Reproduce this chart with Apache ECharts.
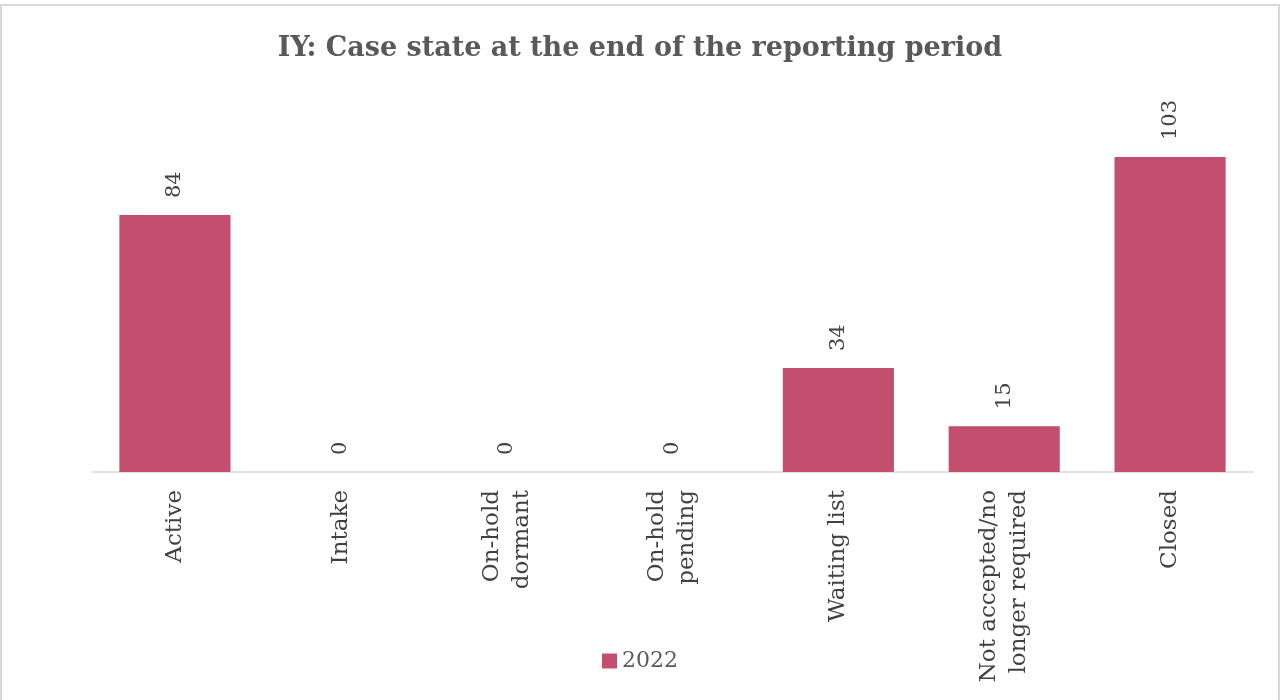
<!DOCTYPE html>
<html>
<head>
<meta charset="utf-8">
<script src="https://cdn.jsdelivr.net/npm/echarts@6/dist/echarts.min.js"></script>
<style>
  html, body { margin: 0; padding: 0; background: #fff; overflow: hidden; }
  #chart {
    position: absolute; left: 0; top: 4px;
    width: 1276px; height: 694px;
    border: 2px solid #d9d9d9; border-bottom: none;
  }
</style>
</head>
<body>
<div id="chart"></div>
<script>
var categories = ["Active", "Intake", "On-hold\ndormant", "On-hold\npending", "Waiting list", "Not accepted/no\nlonger required", "Closed"];
var values2022 = [84, 0, 0, 0, 34, 15, 103];
var seriesName = "2022";

var chart = echarts.init(document.getElementById("chart"));
chart.setOption({
  animation: false,
  title: {
    text: "IY: Case state at the end of the reporting period",
    left: "center",
    top: 24,
    textStyle: {
      fontFamily: "DejaVu Serif",
      fontWeight: "bold",
      fontSize: 27,
      color: "#595959"
    }
  },
  legend: {
    data: [seriesName],
    bottom: 23,
    left: "center",
    icon: "rect",
    itemWidth: 15,
    itemHeight: 15,
    itemGap: 6,
    selectedMode: false,
    textStyle: {
      fontFamily: "DejaVu Serif",
      fontSize: 22,
      color: "#595959"
    }
  },
  grid: {
    left: 90,
    right: 25,
    top: 99,
    bottom: 228
  },
  xAxis: {
    type: "category",
    data: categories,
    axisTick: { show: false },
    axisLine: { lineStyle: { color: "#d9d9d9", width: 1.5 } },
    axisLabel: {
      rotate: 90,
      margin: 18,
      interval: 0,
      fontFamily: "DejaVu Serif",
      fontSize: 23,
      lineHeight: 30,
      color: "#404040"
    }
  },
  yAxis: {
    type: "value",
    min: 0,
    max: 120,
    show: false,
    splitLine: { show: false }
  },
  series: [
    {
      name: seriesName,
      type: "bar",
      data: values2022,
      barWidth: "67%",
      itemStyle: { color: "#c44e6e" },
      label: {
        show: true,
        position: "top",
        rotate: 90,
        align: "left",
        verticalAlign: "middle",
        distance: 17,
        fontFamily: "DejaVu Serif",
        fontSize: 21,
        color: "#404040"
      }
    }
  ]
});
</script>
</body>
</html>
